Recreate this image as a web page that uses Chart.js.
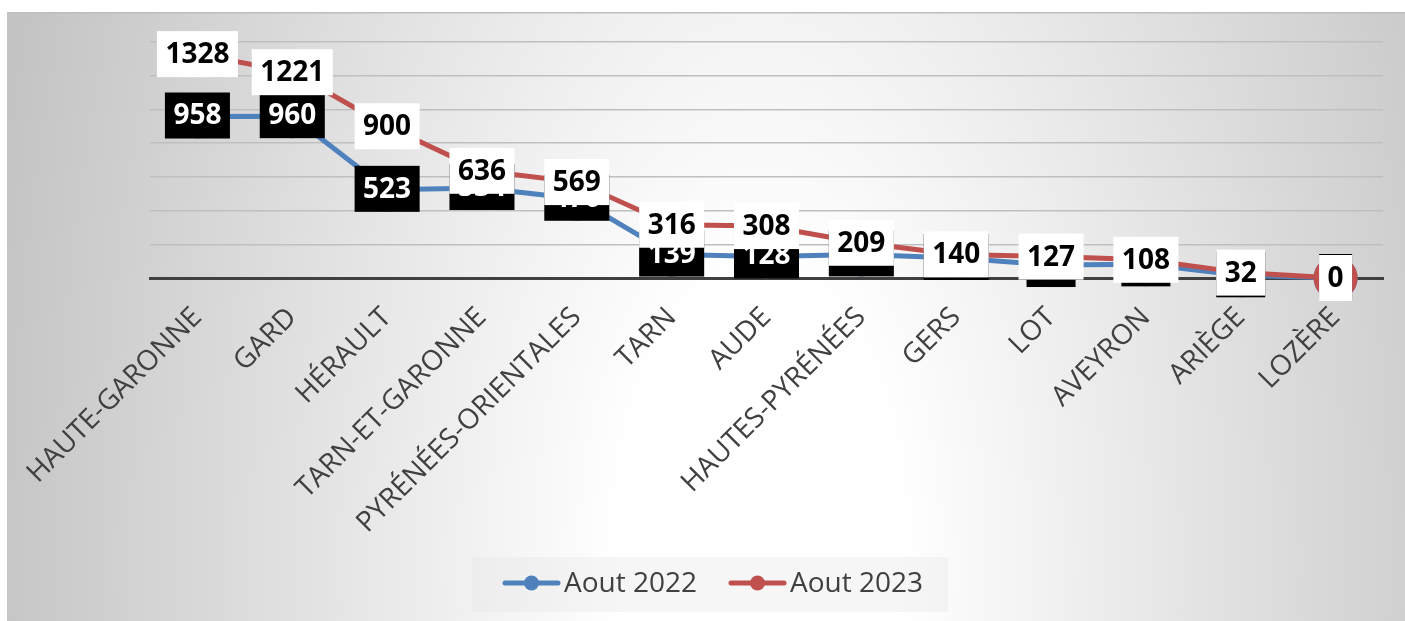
<!DOCTYPE html>
<html>
<head>
<meta charset="utf-8">
<script src="https://cdn.jsdelivr.net/npm/chart.js@4.4.1/dist/chart.umd.min.js"></script>
<style>
  html, body { margin: 0; padding: 0; background: #ffffff; }
  #wrap { width: 1405px; height: 621px; }
</style>
</head>
<body>
<div id="wrap"><canvas id="departements"></canvas></div>
<script>
// Categories and values
const departements = [
  "HAUTE-GARONNE", "GARD", "HÉRAULT", "TARN-ET-GARONNE", "PYRÉNÉES-ORIENTALES",
  "TARN", "AUDE", "HAUTES-PYRÉNÉES", "GERS", "LOT", "AVEYRON", "ARIÈGE", "LOZÈRE",
];
const aout2022 = [958, 960, 523, 534, 470, 139, 128, 140, 119, 77, 81, 16, 0];
const aout2023 = [1328, 1221, 900, 636, 569, 316, 308, 209, 140, 127, 108, 32, 0];
const yTicks = [0, 200, 400, 600, 800, 1000, 1200, 1400];

const blue = "#4f81bd";
const red = "#c0504d";
const textGray = "#404040";
const labelFont = "bold 28px 'Open Sans'";

// Background with the grey radial gradient of the original
const backgroundPlugin = {
  id: "background",
  beforeDraw(chart) {
    const ctx = chart.ctx;
    ctx.save();
    ctx.fillStyle = "#ffffff";
    ctx.fillRect(0, 0, chart.width, chart.height);
    // stretched vertically: scale y by 2 around the gradient centre
    ctx.translate(760, 560);
    ctx.scale(1, 2);
    const grad = ctx.createRadialGradient(0, 0, 0, 0, 0, 780);
    grad.addColorStop(0, "#ffffff");
    grad.addColorStop(0.18, "#ffffff");
    grad.addColorStop(1, "#c4c4c4");
    ctx.fillStyle = grad;
    ctx.fillRect(7 - 760, (12 - 560) / 2, chart.width - 7, (chart.height - 12) / 2);
    ctx.setTransform(1, 0, 0, 1, 0, 0);
    ctx.fillStyle = "#bdbdbd";
    ctx.fillRect(7, 12, chart.width - 7, 1.5);
    ctx.restore();
  },
};

// Value labels in boxes: black boxes for 2022, white boxes for 2023
const boxLabelPlugin = {
  id: "boxLabels",
  afterDatasetsDraw(chart) {
    const ctx = chart.ctx;
    ctx.save();
    ctx.font = labelFont;
    ctx.textAlign = "center";
    ctx.textBaseline = "middle";
    [0, 1].forEach((di) => {
      const ds = chart.data.datasets[di];
      const meta = chart.getDatasetMeta(di);
      meta.data.forEach((pt, i) => {
        const txt = String(ds.data[i]);
        const w = ctx.measureText(txt).width + 17;
        const h = 46;
        const dy = di === 0 ? -1 : 0;
        ctx.fillStyle = ds.boxColor;
        ctx.fillRect(pt.x - w / 2, pt.y - h / 2 + dy, w, h);
        ctx.fillStyle = ds.boxText;
        ctx.fillText(txt, pt.x, pt.y + 1 + dy);
      });
    });
    ctx.restore();
  },
};

// Legend drawn with a line and a dot, like the spreadsheet one
const legendPlugin = {
  id: "lineLegend",
  afterDraw(chart) {
    const ctx = chart.ctx;
    ctx.save();
    ctx.fillStyle = "rgba(230,230,230,0.35)";
    ctx.fillRect(472, 557, 476, 55);
    ctx.font = "28px 'Open Sans'";
    ctx.textBaseline = "middle";
    const symW = 57;
    const gap = 4;
    const itemGap = 32;
    const items = chart.data.datasets.map((ds) => ({
      label: ds.label,
      color: ds.borderColor,
      w: symW + gap + ctx.measureText(ds.label).width,
    }));
    const total = items.reduce((s, it) => s + it.w, 0) + itemGap * (items.length - 1);
    let x = 713 - total / 2;
    const y = 583;
    items.forEach((it) => {
      ctx.strokeStyle = it.color;
      ctx.lineWidth = 5;
      ctx.lineCap = "round";
      ctx.beginPath();
      ctx.moveTo(x + 2, y);
      ctx.lineTo(x + symW - 2, y);
      ctx.stroke();
      ctx.fillStyle = it.color;
      ctx.beginPath();
      ctx.arc(x + symW / 2, y, 7.5, 0, Math.PI * 2);
      ctx.fill();
      ctx.fillStyle = textGray;
      ctx.fillText(it.label, x + symW + gap, y + 1);
      x += it.w + itemGap;
    });
    ctx.restore();
  },
};

const ctxChart = document.getElementById("departements");

new Chart(ctxChart, {
  type: "line",
  data: {
    labels: departements,
    datasets: [
      {
        label: "Aout 2022",
        data: aout2022,
        borderColor: blue,
        backgroundColor: blue,
        borderWidth: 5,
        pointRadius: 22,
        pointBorderWidth: 0,
        tension: 0,
        clip: false,
        order: 1,
        boxColor: "#000000",
        boxText: "#ffffff",
      },
      {
        label: "Aout 2023",
        data: aout2023,
        borderColor: red,
        backgroundColor: red,
        borderWidth: 5,
        pointRadius: 22,
        pointBorderWidth: 0,
        tension: 0,
        clip: false,
        order: 0,
        boxColor: "#ffffff",
        boxText: "#000000",
      },
    ],
  },
  options: {
    responsive: true,
    maintainAspectRatio: false,
    animation: false,
    layout: { padding: { left: 150, right: 20, top: 42, bottom: 0 } },
    plugins: {
      legend: { display: false },
      tooltip: { enabled: false },
    },
    scales: {
      x: {
        offset: true,
        grid: { display: false, drawTicks: false },
        border: { display: true, color: "#404040", width: 3 },
        ticks: {
          autoSkip: false,
          maxRotation: 45,
          minRotation: 45,
          padding: 23,
          color: textGray,
          font: { family: "'Open Sans'", size: 28 },
        },
        afterFit(scale) {
          scale.height = 621 - 278;
        },
      },
      y: {
        min: yTicks[0],
        max: yTicks[yTicks.length - 1],
        afterBuildTicks(scale) {
          scale.ticks = yTicks.map((v) => ({ value: v }));
        },
        grid: { color: "#bfbfbf", lineWidth: 1.5, drawTicks: false },
        border: { display: false },
        ticks: { display: false },
        afterFit(scale) {
          scale.width = 0;
        },
      },
    },
  },
  plugins: [backgroundPlugin, boxLabelPlugin, legendPlugin],
});
</script>
</body>
</html>
